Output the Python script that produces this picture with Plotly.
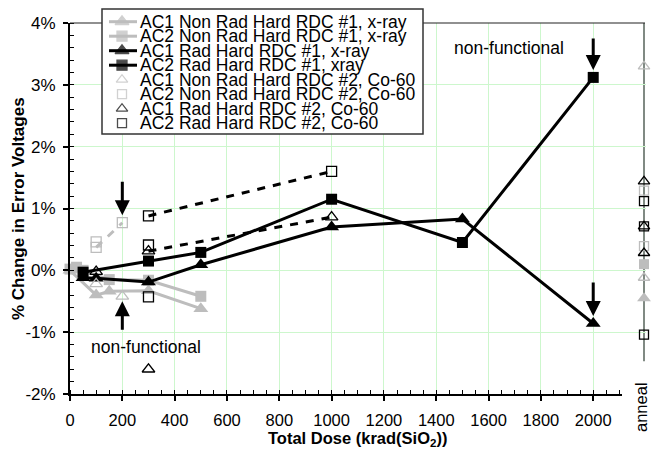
import plotly.graph_objects as go

# ---------------- data ----------------
dose_ticks = [0, 200, 400, 600, 800, 1000, 1200, 1400, 1600, 1800, 2000]
pct_ticks = [-2, -1, 0, 1, 2, 3, 4]
pct_tick_labels = ["-2%", "-1%", "0%", "1%", "2%", "3%", "4%"]

series_names = [
    "AC1 Non Rad Hard RDC #1, x-ray",
    "AC2 Non Rad Hard RDC #1, x-ray",
    "AC1 Rad Hard RDC #1, x-ray",
    "AC2 Rad Hard RDC #1, xray",
    "AC1 Non Rad Hard RDC #2, Co-60",
    "AC2 Non Rad Hard RDC #2, Co-60",
    "AC1 Rad Hard RDC #2, Co-60",
    "AC2 Rad Hard RDC #2, Co-60",
]

# x-ray series (krad(SiO2), % change)
nrh1_ac1_dose = [0, 100, 150, 300, 500]
nrh1_ac1_pct = [0.0, -0.40, -0.34, -0.33, -0.62]
nrh1_ac2_dose = [0, 25, 50, 150, 300, 500]
nrh1_ac2_pct = [0.02, 0.05, 0.0, -0.15, -0.16, -0.42]
rh1_ac1_dose = [50, 100, 300, 500, 1000, 1500, 2000]
rh1_ac1_pct = [-0.12, -0.13, -0.19, 0.09, 0.70, 0.83, -0.86]
rh1_ac2_dose = [50, 300, 500, 1000, 1500, 2000]
rh1_ac2_pct = [-0.03, 0.15, 0.29, 1.15, 0.45, 3.12]

# Co-60 series (None separates unconnected parts)
nrh2_ac1_dose = [100, None, 200]
nrh2_ac1_pct = [-0.22, None, -0.42]
nrh2_ac2_dose = [100, 200, None, 100]
nrh2_ac2_pct = [0.37, 0.77, None, 0.46]
rh2_ac1_dose = [100, None, 300, 1000, None, 300]
rh2_ac1_pct = [-0.02, None, 0.31, 0.86, None, -1.60]
rh2_ac2_dose = [300, 1000, None, 300, None, 300]
rh2_ac2_pct = [0.88, 1.60, None, 0.41, None, -0.43]

# anneal values (%)
anneal_nrh1_ac1 = [-0.45]
anneal_nrh1_ac2 = [0.10]
anneal_rh1_ac1 = []
anneal_rh1_ac2 = []
anneal_nrh2_ac1 = [3.30, -0.12]
anneal_nrh2_ac2 = [1.29, 0.39]
anneal_rh2_ac1 = [1.44, 0.71, 0.28]
anneal_rh2_ac2 = [1.12, 0.71, -1.04]

# "non-functional" arrows: dose, tip value
arrow_dose = [200, 200, 2000, 2000]
arrow_tip_pct = [0.89, -0.50, 3.24, -0.74]

# ---------------- layout constants (pixels) ----------------
W, H = 651, 451
L, XR, AN, RB = 70, 622, 644, 646
T, B = 23, 394
FONT = "Liberation Sans, Arial, sans-serif"
GRAY = "#bdbdbd"
GRID = "#cdf7cd"

styles = [
    dict(color=GRAY, symbol="triangle-up", size=13, width=3, dash="solid", mode="lines+markers"),
    dict(color=GRAY, symbol="square", size=11, width=3, dash="solid", mode="lines+markers"),
    dict(color="black", symbol="triangle-up", size=13, width=3, dash="solid", mode="lines+markers"),
    dict(color="black", symbol="square", size=11, width=3, dash="solid", mode="lines+markers"),
    dict(color=GRAY, symbol="triangle-up-open", size=11, width=3, dash="8px,8px", mode="lines+markers"),
    dict(color=GRAY, symbol="square-open", size=10, width=3, dash="8px,8px", mode="lines+markers"),
    dict(color="black", symbol="triangle-up-open", size=11, width=3, dash="8px,8px", mode="lines+markers"),
    dict(color="black", symbol="square-open", size=10, width=3, dash="8px,8px", mode="lines+markers"),
]
xs = [nrh1_ac1_dose, nrh1_ac2_dose, rh1_ac1_dose, rh1_ac2_dose,
      nrh2_ac1_dose, nrh2_ac2_dose, rh2_ac1_dose, rh2_ac2_dose]
ys = [nrh1_ac1_pct, nrh1_ac2_pct, rh1_ac1_pct, rh1_ac2_pct,
      nrh2_ac1_pct, nrh2_ac2_pct, rh2_ac1_pct, rh2_ac2_pct]
anneals = [anneal_nrh1_ac1, anneal_nrh1_ac2, anneal_rh1_ac1, anneal_rh1_ac2,
           anneal_nrh2_ac1, anneal_nrh2_ac2, anneal_rh2_ac1, anneal_rh2_ac2]

fig = go.Figure()

for name, x, y, st in zip(series_names, xs, ys, styles):
    open_m = st["symbol"].endswith("open")
    fig.add_trace(go.Scatter(
        x=x, y=y, name=name, mode=st["mode"], connectgaps=False, showlegend=False,
        line=dict(color=st["color"], width=st["width"], dash=st["dash"]),
        marker=dict(symbol=st["symbol"], size=st["size"], color=st["color"],
                    line=dict(color=st["color"], width=1.3 if open_m else 0)),
        xaxis="x", yaxis="y", cliponaxis=False,
    ))

# anneal column
for name, vals, st in zip(series_names, anneals, styles):
    if not vals:
        continue
    open_m = st["symbol"].endswith("open")
    fig.add_trace(go.Scatter(
        x=[0] * len(vals), y=vals, name=name, mode="markers", showlegend=False,
        marker=dict(symbol=st["symbol"], size=st["size"] - 1, color=st["color"],
                    line=dict(color=st["color"], width=1.3 if open_m else 0)),
        xaxis="x2", yaxis="y", cliponaxis=False,
    ))

# ---------------- custom compact legend ----------------
LEG_X0, LEG_X1, LEG_Y0, LEG_Y1 = 102, 423, 9, 134
ROW0, ROWDY = 21.7, 14.5
SX0, SX1, SXC, TX = 109, 137, 122, 139
rows = [ROW0 + i * ROWDY for i in range(len(series_names))]

shapes = []
# top border (covered by legend box)
shapes.append(dict(type="line", xref="x3", yref="y3", x0=L, x1=AN + 1, y0=T, y1=T,
                   line=dict(color="#222", width=1.2), layer="below"))
shapes.append(dict(type="rect", xref="x3", yref="y3", x0=LEG_X0, x1=LEG_X1, y0=LEG_Y0, y1=LEG_Y1,
                   fillcolor="white", line=dict(color="#333", width=1.5), layer="below"))
for i, st in enumerate(styles):
    if not st["symbol"].endswith("open"):
        shapes.append(dict(type="line", xref="x3", yref="y3", x0=SX0, x1=SX1, y0=rows[i], y1=rows[i],
                           line=dict(color=st["color"], width=3), layer="below"))
# anneal vertical line
shapes.append(dict(type="line", xref="x2", yref="y", x0=0, x1=0, y0=4, y1=-1.47,
                   line=dict(color="#56635a", width=1.5), layer="below"))

fig.add_trace(go.Scatter(
    x=[SXC] * len(rows), y=rows, mode="markers", showlegend=False, cliponaxis=False,
    marker=dict(symbol=[s["symbol"] for s in styles], size=[s["size"] - 1 for s in styles],
                color=[s["color"] for s in styles],
                line=dict(color=[s["color"] for s in styles], width=1.3)),
    xaxis="x3", yaxis="y3", hoverinfo="skip",
))

annotations = []
for i, name in enumerate(series_names):
    annotations.append(dict(xref="x3", yref="y3", x=TX, y=rows[i], text=name, showarrow=False,
                            xanchor="left", yanchor="middle", borderpad=0,
                            font=dict(family=FONT, size=17.5, color="black")))

# arrows
arrow_len = [-35, 30, -33, -35]
for xd, yt, ay in zip(arrow_dose, arrow_tip_pct, arrow_len):
    annotations.append(dict(xref="x", yref="y", x=xd, y=yt, ax=0, ay=ay, text="",
                            showarrow=True, arrowhead=2, arrowsize=1.0, arrowwidth=3,
                            arrowcolor="black", standoff=0))

annotations += [
    dict(xref="x3", yref="y3", x=146, y=347, text="non-functional", showarrow=False,
         font=dict(family=FONT, size=17.5, color="black")),
    dict(xref="x3", yref="y3", x=509, y=48, text="non-functional", showarrow=False,
         font=dict(family=FONT, size=17.5, color="black")),
    dict(xref="x3", yref="y3", x=641, y=407, text="anneal", showarrow=False, textangle=-90,
         font=dict(family=FONT, size=16.5, color="black")),
    dict(xref="x3", yref="y3", x=357, y=439, text="<b>Total Dose (krad(SiO<sub>2</sub>))</b>",
         showarrow=False, font=dict(family=FONT, size=16.5, color="black")),
    dict(xref="x3", yref="y3", x=18, y=209, text="<b>% Change in Error Voltages</b>",
         showarrow=False, textangle=-90, font=dict(family=FONT, size=17, color="black")),
]

fig.update_layout(
    template="none",
    width=W, height=H, margin=dict(l=0, r=0, t=0, b=0, pad=0, autoexpand=False),
    paper_bgcolor="white", plot_bgcolor="rgba(0,0,0,0)",
    font=dict(family=FONT, size=17, color="black"),
    showlegend=False,
    xaxis=dict(domain=[L / W, XR / W], range=[0, 2110], anchor="y", automargin=False,
               tickmode="array", tickvals=dose_ticks,
               ticks="outside", ticklen=5, tickwidth=1.5, tickcolor="black",
               showline=True, linecolor="black", linewidth=1.8,
               showgrid=True, gridcolor=GRID, gridwidth=1, zeroline=False,
               ticklabelstandoff=5,
               minor=dict(tickmode="linear", tick0=0, dtick=50, ticks="inside", ticklen=4,
                          tickwidth=1.3, tickcolor="black", showgrid=False),
               tickfont=dict(family=FONT, size=16.5)),
    xaxis2=dict(domain=[XR / W, RB / W], range=[-(AN - XR), RB - AN], anchor="y",
                automargin=False, visible=False, showgrid=False, zeroline=False),
    yaxis=dict(domain=[1 - B / H, 1 - T / H], range=[-2, 4], anchor="x", automargin=False,
               tickmode="array", tickvals=pct_ticks, ticktext=pct_tick_labels,
               ticks="outside", ticklen=5, tickwidth=1.5, tickcolor="black",
               showline=True, linecolor="black", linewidth=1.8,
               showgrid=True, gridcolor=GRID, gridwidth=1, zeroline=False,
               ticklabelstandoff=4,
               minor=dict(tickmode="linear", tick0=0, dtick=0.2, ticks="inside", ticklen=4,
                          tickwidth=1.3, tickcolor="black", showgrid=False),
               tickfont=dict(family=FONT, size=17)),
    xaxis3=dict(domain=[0, 1], range=[0, W], anchor="y3", visible=False, automargin=False),
    yaxis3=dict(domain=[0, 1], range=[H, 0], anchor="x3", visible=False, automargin=False),
    shapes=shapes,
    annotations=annotations,
)

fig.write_html("out.html")
